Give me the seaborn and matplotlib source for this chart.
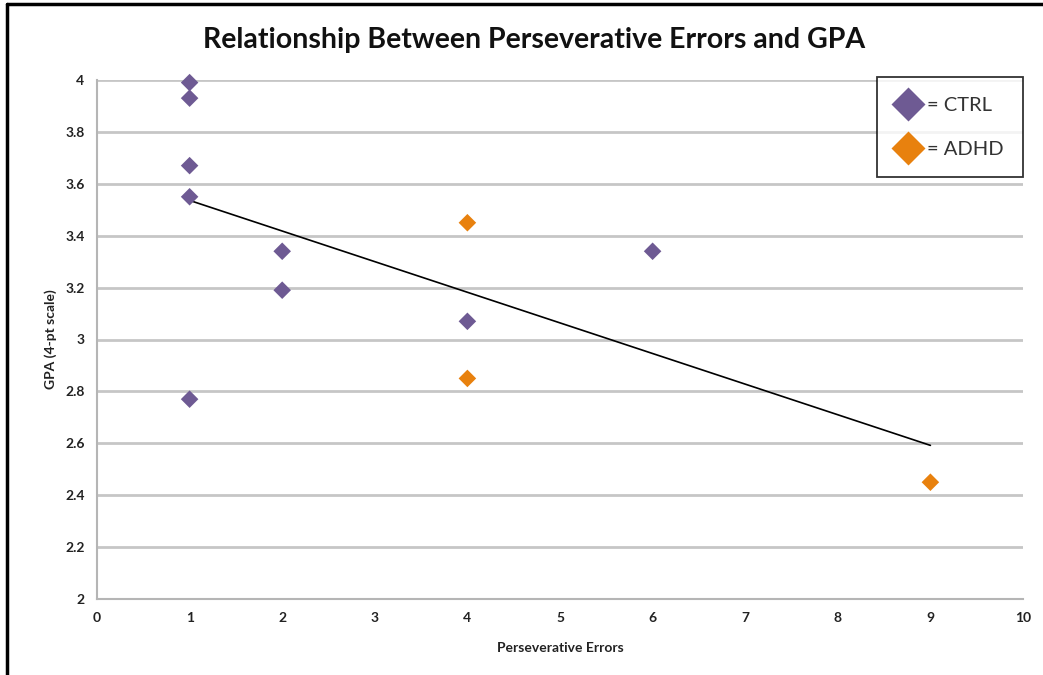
import numpy as np
import pandas as pd
import matplotlib
matplotlib.use("Agg")
import matplotlib.pyplot as plt
import seaborn as sns
from matplotlib.lines import Line2D

# Data
ctrl_errors = [1, 1, 1, 1, 1, 2, 2, 4, 6]
ctrl_gpa = [3.99, 3.93, 3.67, 3.55, 2.77, 3.34, 3.19, 3.07, 3.34]
adhd_errors = [4, 4, 9]
adhd_gpa = [3.45, 2.85, 2.45]
groups = ["CTRL", "ADHD"]
x_ticks = list(range(0, 11))
y_ticks = [2, 2.2, 2.4, 2.6, 2.8, 3, 3.2, 3.4, 3.6, 3.8, 4]
y_tick_labels = ["2", "2.2", "2.4", "2.6", "2.8", "3", "3.2", "3.4", "3.6", "3.8", "4"]

df = pd.DataFrame({
    "errors": ctrl_errors + adhd_errors,
    "gpa": ctrl_gpa + adhd_gpa,
    "group": ["CTRL"] * len(ctrl_errors) + ["ADHD"] * len(adhd_errors),
})

sns.set_theme(style="white")
plt.rcParams["font.family"] = ["Lato", "DejaVu Sans"]

purple = "#6E5A93"
orange = "#E8810E"
grid_c = "#C6C6C6"

fig = plt.figure(figsize=(10.43, 6.75), dpi=100)
ax = fig.add_axes([97 / 1043, 1 - 599 / 675, (1023 - 97) / 1043, (599 - 80) / 675])

ax.set_xlim(0, 10)
ax.set_ylim(2, 4)
ax.set_yticks(y_ticks)
ax.set_yticklabels(y_tick_labels)
ax.set_xticks(x_ticks)
ax.yaxis.grid(True, color=grid_c, linewidth=2)
ax.set_axisbelow(True)

# regression line over all points
sns.regplot(data=df, x="errors", y="gpa", scatter=False, ci=None, ax=ax,
            line_kws=dict(color="black", linewidth=1.2, zorder=3), truncate=True)

sns.scatterplot(data=df, x="errors", y="gpa", hue="group", hue_order=groups,
                palette={"CTRL": purple, "ADHD": orange}, marker="D", s=80,
                edgecolor="none", legend=False, ax=ax, zorder=4, clip_on=False)

for s in ["top", "right"]:
    ax.spines[s].set_visible(False)
for s in ["left", "bottom"]:
    ax.spines[s].set_color("#B5B5B5")
    ax.spines[s].set_linewidth(1.5)
ax.tick_params(axis="both", which="both", direction="out", length=5, width=1.2,
               color="#B5B5B5", labelsize=10, pad=4)
for lab in ax.get_xticklabels() + ax.get_yticklabels():
    lab.set_fontweight("bold")
    lab.set_color("#222222")

ax.set_xlabel("Perseverative Errors", fontsize=10, fontweight="bold", color="#222222", labelpad=13)
ax.set_ylabel("GPA (4-pt scale)", fontsize=10, fontweight="bold", color="#222222", labelpad=6)

fig.text(0.5125, 1 - 40 / 675, "Relationship Between Perseverative Errors and GPA",
         ha="center", va="center", fontsize=20.5, fontweight="bold", color="#111111")

handles = [
    Line2D([], [], marker="D", linestyle="none", markersize=17, color=purple, markeredgecolor="none"),
    Line2D([], [], marker="D", linestyle="none", markersize=17, color=orange, markeredgecolor="none"),
]
leg = ax.legend(handles, ["= " + g for g in groups], loc="upper right",
                bbox_to_anchor=(1.0, 1.005), frameon=True, fancybox=False,
                fontsize=14.5, handletextpad=0.35, borderpad=0.95, labelspacing=1.35,
                handlelength=1.2, borderaxespad=0)
leg.get_frame().set_edgecolor("black")
leg.get_frame().set_linewidth(1.3)
for t in leg.get_texts():
    t.set_color("#333333")

# outer frame lines (left and top)
fig.add_artist(Line2D([7 / 1043, 7 / 1043], [0, 1 - 4 / 675], color="black", linewidth=2.5))
fig.add_artist(Line2D([7 / 1043, 1], [1 - 4 / 675, 1 - 4 / 675], color="black", linewidth=2.5))

fig.savefig("out.png", dpi=100)
